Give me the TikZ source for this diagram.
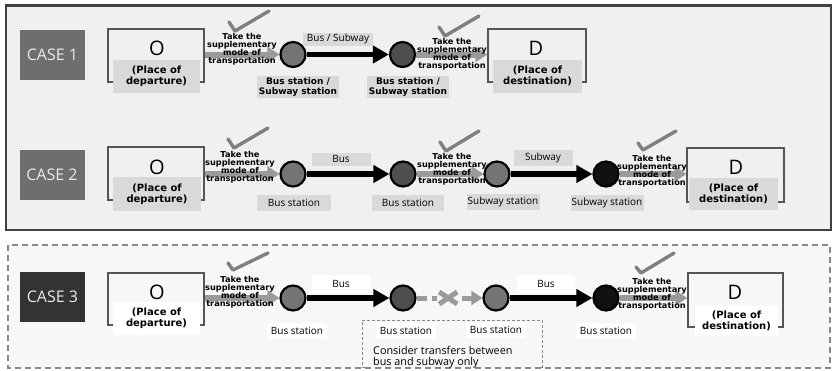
\documentclass[tikz,border=0pt]{standalone}
\usepackage{fontspec}
\setmainfont{Open Sans}
\newfontfamily\bfam{DejaVu Sans}
\usetikzlibrary{arrows.meta,calc}
\definecolor{panelA}{HTML}{F0F0F0}
\definecolor{panelB}{HTML}{F7F7F7}
\definecolor{lblgray}{HTML}{D9D9D9}
\definecolor{casegray}{HTML}{6E6E6E}
\definecolor{casedark}{HTML}{333333}
\definecolor{arrgray}{HTML}{9A9A9A}
\definecolor{chkgray}{HTML}{7F7F7F}
\definecolor{stnA}{HTML}{747474}
\definecolor{stnB}{HTML}{4E4E4E}
\definecolor{stnC}{HTML}{111111}
\definecolor{framegray}{HTML}{404040}
\definecolor{odgray}{HTML}{555555}
\definecolor{dashgray}{HTML}{888888}
\begin{document}
\begin{tikzpicture}[x=1pt,y=-1pt,
 casebox/.style={fill=casegray,minimum width=65pt,minimum height=50pt,inner sep=0,text=white!92!black,font=\fontsize{16}{16}\selectfont},
 odbox/.style={draw=odgray,line width=1.4pt,minimum width=96pt,minimum height=53pt,inner sep=0},
 odletter/.style={font=\fontsize{20}{20}\selectfont,inner sep=0},
 odlabel/.style={fill=lblgray,align=center,inner sep=0,font=\bfam\bfseries\fontsize{10}{11}\selectfont,minimum width=87pt,minimum height=33pt},
 stn/.style={circle,draw=black,line width=2.2pt,minimum size=25pt,inner sep=0},
 takelbl/.style={align=center,inner sep=0,font=\bfam\bfseries\fontsize{8.2}{8}\selectfont},
 stnlbl/.style={fill=lblgray,inner sep=0,minimum height=16pt,font=\fontsize{10}{11}\selectfont},
 stnlblb/.style={fill=lblgray,inner sep=1.5pt,align=center,font=\bfam\bfseries\fontsize{9}{10}\selectfont},
 modelbl/.style={fill=lblgray,inner sep=0,minimum height=13pt,font=\fontsize{10}{11}\selectfont},
 mainarr/.style={draw=black,line width=5.5pt,-{Triangle[length=16pt,width=17pt]}},
 suparr/.style={color=arrgray,line width=6pt,-{Triangle[length=12pt,width=15pt]}},
 chk/.style={draw=chkgray,line width=3.4pt,line cap=round,line join=round},
 xmk/.style={draw=arrgray,line width=5pt},
]
\useasboundingbox (0,0) rectangle (834,370);
\fill[white] (0,0) rectangle (834,370);
% panels
\draw[framegray,line width=2.5pt,fill=panelA] (6,5.5) rectangle (831,230);
\draw[dashgray,line width=1.2pt,fill=panelB,dash pattern=on 6pt off 4pt] (8,245) rectangle (830,368);

% ---------------- CASE 1 ----------------
\node[casebox] (case1) at (52.5,55) {CASE 1};
\node[odbox] (o1) at (156,55.5) {};
\node[stn,fill=stnA] (c11) at (293,54.5) {};
\node[stn,fill=stnB] (c12) at (402.5,54.5) {};
\node[odbox,minimum width=98pt] (d1) at (537,55.5) {};
\draw[suparr] (o1.east|-c11.center) -- (c11.west);
\draw[mainarr] (c11.east) -- (c12.west);
\draw[suparr] (c12.east) -- (d1.west|-c12.center);
\node[odletter] (o1l) at (157,48) {O};
\node[odlabel] (o1t) at (156.5,76.5) {(Place of\\departure)};
\node[odletter] (d1l) at (536,48) {D};
\node[odlabel,minimum width=89pt] (d1t) at (537.5,76) {(Place of\\destination)};
\node[modelbl,minimum width=70pt] (m11) at (338,39) {Bus / Subway};
\node[stnlblb] (s11) at (298,87) {Bus station /\\Subway station};
\node[stnlblb] (s12) at (408,87) {Bus station /\\Subway station};
\node[takelbl] (t11) at (242,49) {Take the\\supplementary\\mode of\\transportation};
\node[takelbl] (t12) at (452,54) {Take the\\supplementary\\mode of\\transportation};
\draw[chk,shift={(t11.center)}] (-13,-27) -- (-7,-18) -- (27,-38);
\draw[chk,shift={(t12.center)}] (-13,-27) -- (-7,-18) -- (27,-38);

% ---------------- CASE 2 ----------------
\node[casebox] (case2) at (52,174.5) {CASE 2};
\node[odbox] (o2) at (156,173.5) {};
\node[stn,fill=stnA] (c21) at (293,174) {};
\node[stn,fill=stnB] (c22) at (403,174) {};
\node[stn,fill=stnA] (c23) at (497,174) {};
\node[stn,fill=stnC] (c24) at (606,174) {};
\node[odbox,minimum width=97pt,minimum height=54pt] (d2) at (735.5,175) {};
\draw[suparr] (o2.east|-c21.center) -- (c21.west);
\draw[mainarr] (c21.east) -- (c22.west);
\draw[suparr] (c22.east) -- (c23.west);
\draw[mainarr] (c23.east) -- (c24.west);
\draw[suparr] (c24.east) -- (d2.west|-c24.center);
\node[odletter] (o2l) at (157,167) {O};
\node[odlabel,minimum width=88pt,minimum height=34pt] (o2t) at (157,194) {(Place of\\departure)};
\node[odletter] (d2l) at (736,167) {D};
\node[odlabel,minimum width=89pt,minimum height=32pt] (d2t) at (733.5,194) {(Place of\\destination)};
\node[modelbl,minimum width=59pt] (m21) at (341,159) {Bus};
\node[modelbl,minimum width=59pt,minimum height=16pt] (m22) at (543,158) {Subway};
\node[stnlbl,minimum width=74pt] (s21) at (294,203) {Bus station};
\node[stnlbl,minimum width=72pt] (s22) at (408,203) {Bus station};
\node[stnlbl,minimum width=73pt] (s23) at (503,202) {Subway station};
\node[stnlbl,minimum width=73pt] (s24) at (607,203) {Subway station};
\node[takelbl] (t21) at (240,167) {Take the\\supplementary\\mode of\\transportation};
\node[takelbl] (t22) at (452,169) {Take the\\supplementary\\mode of\\transportation};
\node[takelbl] (t23) at (652,171) {Take the\\supplementary\\mode of\\transportation};
\draw[chk,shift={(t21.center)}] (-12,-28) -- (-6,-19) -- (28,-39);
\draw[chk,shift={(t22.center)}] (-12,-27) -- (-6,-18) -- (27,-38);
\draw[chk,shift={(t23.center)}] (-14,-28) -- (-9,-21) -- (24,-40);

% ---------------- CASE 3 ----------------
\node[casebox,fill=casedark] (case3) at (52.5,297) {CASE 3};
\node[odbox,minimum height=52pt] (o3) at (156,299) {};
\node[stn,fill=stnA] (c31) at (293,298) {};
\node[stn,fill=stnB] (c32) at (403,298) {};
\node[stn,fill=stnA] (c33) at (496,298) {};
\node[stn,fill=stnC] (c34) at (606,298) {};
\node[odbox,minimum width=95pt,minimum height=54pt] (d3) at (735.5,300) {};
\draw[suparr] (o3.east|-c31.center) -- (c31.west);
\draw[mainarr] (c31.east) -- (c32.west);
\draw[color=arrgray,line width=5pt,dash pattern=on 10pt off 5pt,-{Triangle[length=11pt,width=14pt]}] (c32.east) -- (c33.west);
\coordinate (xmark) at ($(c32.east)!0.48!(c33.west)$);
\fill[panelB] ($(xmark)+(-11,-8)$) rectangle ($(xmark)+(11,8)$);
\draw[xmk] ($(xmark)+(-9,-6)$) -- ($(xmark)+(9,6)$) ($(xmark)+(-9,6)$) -- ($(xmark)+(9,-6)$);
\draw[mainarr] (c33.east) -- (c34.west);
\draw[suparr] (c34.east) -- (d3.west|-c34.center);
\node[odletter] (o3l) at (157,292) {O};
\node[odlabel,fill=white] (o3t) at (156.5,318.5) {(Place of\\departure)};
\node[odletter] (d3l) at (735,292) {D};
\node[odlabel,fill=white,minimum width=83pt,minimum height=30pt] (d3t) at (736.5,320.5) {(Place of\\destination)};
\node[modelbl,fill=white,minimum width=58pt,minimum height=18pt] (m31) at (341,284) {Bus};
\node[modelbl,fill=white,minimum width=58pt,minimum height=18pt] (m32) at (546,284) {Bus};
\node[stnlbl,fill=white,minimum width=60pt] (s31) at (297,331) {Bus station};
\node[stnlbl,fill=white,minimum width=60pt] (s32) at (406,331) {Bus station};
\node[stnlbl,fill=white,minimum width=60pt] (s33) at (496,330) {Bus station};
\node[stnlbl,fill=white,minimum width=60pt] (s34) at (606,331) {Bus station};
\node[takelbl] (t31) at (240,292) {Take the\\supplementary\\mode of\\transportation};
\node[takelbl] (t32) at (652,294) {Take the\\supplementary\\mode of\\transportation};
\draw[chk,shift={(t31.center)}] (-12,-29) -- (-7,-22) -- (28,-39);
\draw[chk,shift={(t32.center)}] (-16,-27) -- (-11,-21) -- (22,-41);
% dashed note box
\draw[dashgray,line width=0.8pt,dash pattern=on 3pt off 2pt] (365,367) -- (362,367) -- (362,320) -- (542,320) -- (542,367) -- (539,367);
\node[anchor=west,align=left,inner sep=0,font=\fontsize{10.8}{10.5}\selectfont] (note) at (373,357) {Consider transfers between\\bus and subway only};
\end{tikzpicture}
\end{document}
